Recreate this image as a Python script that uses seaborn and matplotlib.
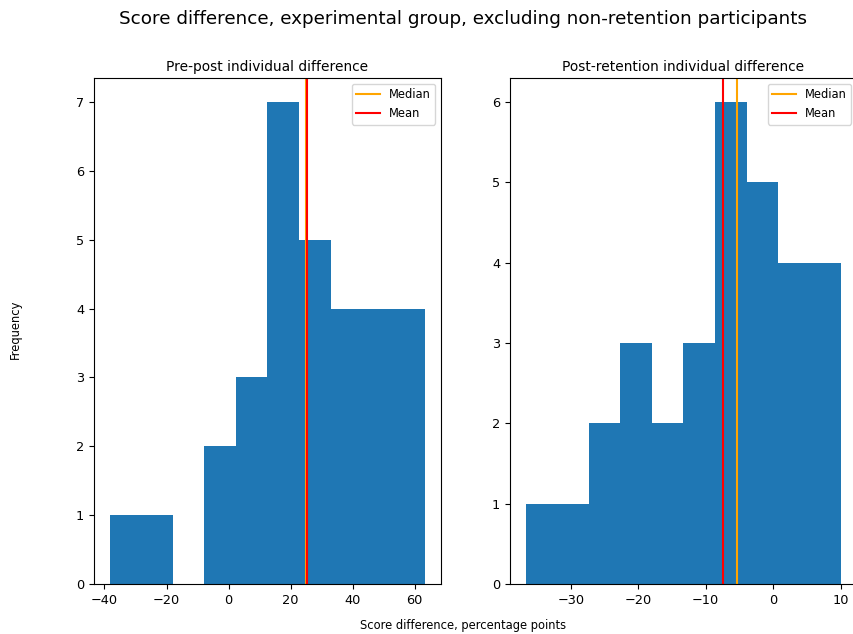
import numpy as np
import pandas as pd
import matplotlib
matplotlib.use("Agg")
import matplotlib.pyplot as plt
import seaborn as sns

# Pre-post differences: histogram bin edges and counts
pre_post_edges = [-38.3, -28.13, -17.96, -7.79, 2.38, 12.55, 22.72, 32.89, 43.06, 53.23, 63.4]
pre_post_counts = [1, 1, 0, 2, 3, 7, 5, 4, 4, 4]
pre_post_median = 25.0
pre_post_mean = 25.3

# Post-retention differences: histogram bin edges and counts
post_ret_edges = [-36.7, -32.02, -27.34, -22.66, -17.98, -13.3, -8.62, -3.94, 0.74, 5.42, 10.1]
post_ret_counts = [1, 1, 2, 3, 2, 3, 6, 5, 4, 4]
post_ret_median = -5.4
post_ret_mean = -7.4

titles = ["Pre-post individual difference", "Post-retention individual difference"]

W, H = 854, 634
fig = plt.figure(figsize=(W / 100, H / 100), dpi=100)
ax1 = fig.add_axes([94 / W, 1 - 584 / H, 347 / W, 506 / H])
ax2 = fig.add_axes([510 / W, 1 - 584 / H, 347 / W, 506 / H])

panels = [
    (ax1, pre_post_edges, pre_post_counts, pre_post_median, pre_post_mean, titles[0]),
    (ax2, post_ret_edges, post_ret_counts, post_ret_median, post_ret_mean, titles[1]),
]

for ax, edges, counts, med, mean, title in panels:
    e = np.asarray(edges, dtype=float)
    df = pd.DataFrame({"value": (e[:-1] + e[1:]) / 2, "count": counts})
    sns.histplot(data=df, x="value", weights="count", bins=list(edges), ax=ax,
                 color="#1f77b4", alpha=1, linewidth=0, edgecolor="none")
    ax.axvline(med, color="orange", label="Median")
    ax.axvline(mean, color="red", label="Mean")
    ax.set_title(title, fontsize=9.9, pad=5)
    ax.set_xlabel("")
    ax.set_ylabel("")
    ax.set_ylim(0, max(counts) * 1.05)
    ax.tick_params(labelsize=9.3)
    ax.legend(loc="upper right", fontsize=8.3)

fig.text(463 / W, 1 - 19 / H, "Score difference, experimental group, excluding non-retention participants",
         ha="center", va="center", fontsize=13.2)
fig.text(463 / W, 1 - 625 / H, "Score difference, percentage points",
         ha="center", va="center", fontsize=8.3)
fig.text(15 / W, 1 - 329 / H, "Frequency", rotation=90,
         ha="center", va="center", fontsize=8.3)

fig.savefig("out.png", dpi=100)
